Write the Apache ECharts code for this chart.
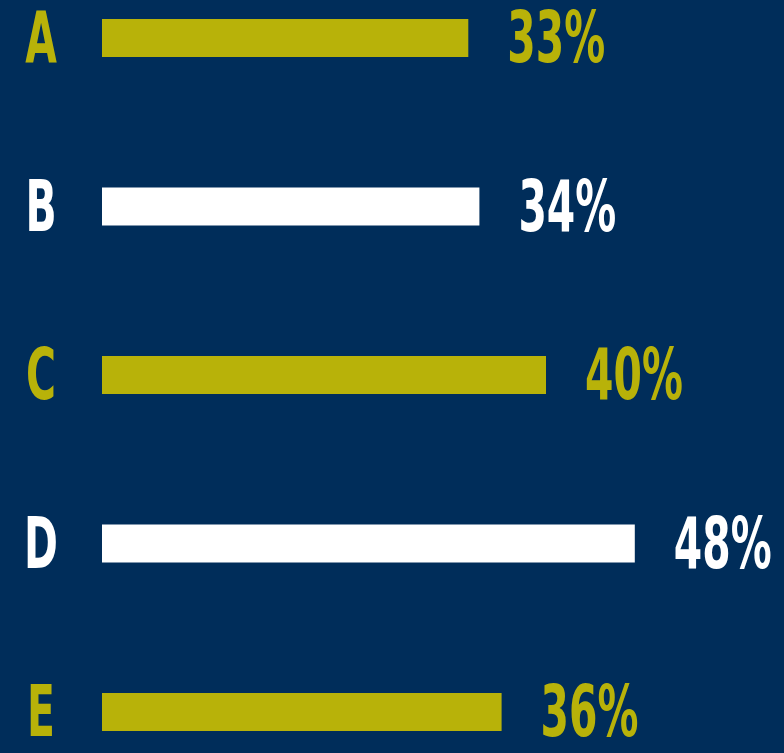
<!DOCTYPE html>
<html>
<head>
<meta charset="utf-8">
<style>
  html, body { margin: 0; padding: 0; background: #002d5a; }
  #chart { width: 784px; height: 753px; }
</style>
<script src="https://cdn.jsdelivr.net/npm/echarts@6/dist/echarts.min.js"></script>
</head>
<body>
<div id="chart"></div>
<script>
  var categories = ['A', 'B', 'C', 'D', 'E'];
  var values = [33, 34, 40, 48, 36];
  var colors = ['#b8b209', '#ffffff', '#b8b209', '#ffffff', '#b8b209'];

  // condensed look: wide fallback font squeezed horizontally
  var labelFont = 'bold 71px "DejaVu Sans Condensed", "DejaVu Sans", sans-serif';
  var squeeze = 0.64;

  var chart = echarts.init(document.getElementById('chart'));
  chart.setOption({
    backgroundColor: '#002d5a',
    animation: false,
    grid: {
      left: 102,
      width: 666,
      top: 38,
      height: 674
    },
    xAxis: {
      type: 'value',
      min: 0,
      max: 60,
      show: false
    },
    yAxis: {
      type: 'category',
      inverse: true,
      boundaryGap: false,
      data: categories,
      show: false
    },
    series: [{
      type: 'bar',
      barWidth: 38,
      data: values.map(function (v, i) {
        return { value: v, itemStyle: { color: colors[i] } };
      })
    }, {
      type: 'custom',
      data: values.map(function (v, i) { return [v, i]; }),
      encode: { x: 0, y: 1 },
      renderItem: function (params, api) {
        var idx = api.value(1);
        var end = api.coord([api.value(0), idx]);
        var start = api.coord([0, idx]);
        var col = colors[idx];
        var ty = end[1] + 6;
        return {
          type: 'group',
          children: [{
            type: 'text',
            x: start[0] - 61,
            y: ty,
            scaleX: squeeze,
            style: {
              text: categories[idx],
              font: labelFont,
              fill: col,
              textAlign: 'center',
              textVerticalAlign: 'middle'
            }
          }, {
            type: 'text',
            x: end[0] + 39,
            y: ty,
            scaleX: squeeze,
            style: {
              text: api.value(0) + '%',
              font: labelFont,
              fill: col,
              textAlign: 'left',
              textVerticalAlign: 'middle'
            }
          }]
        };
      }
    }]
  });
</script>
</body>
</html>
